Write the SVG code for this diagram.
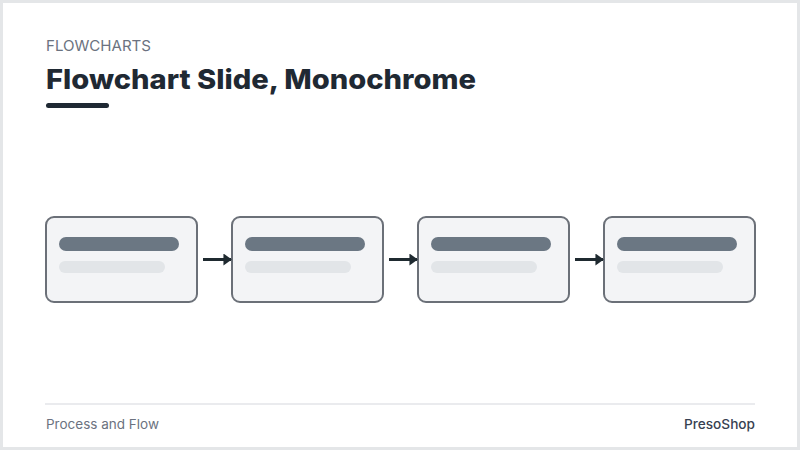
<svg xmlns="http://www.w3.org/2000/svg" width="800" height="450" viewBox="0 0 800 450">
<defs>
<style>
.node rect.box{fill:#f3f4f6;stroke:#6b7078;stroke-width:2}
.bar1{fill:#6b7783}
.bar2{fill:#e2e5e8}
.conn line{stroke:#1f2a30;stroke-width:3}
.t{font-family:"Inter","Liberation Sans",sans-serif}
</style>
<marker id="ah" viewBox="0 0 10 10" refX="9" refY="5" markerWidth="2.8" markerHeight="4" orient="auto" markerUnits="strokeWidth" preserveAspectRatio="none">
<path d="M0,0 L10,5 L0,10 Z" fill="#1f2a30"/>
</marker>
</defs>
<rect x="1.5" y="1.5" width="797" height="447" fill="#ffffff" stroke="#e4e6e8" stroke-width="3"/>
<text class="t" x="46" y="51" font-size="14.5" fill="#6b7280" textLength="105" lengthAdjust="spacingAndGlyphs">FLOWCHARTS</text>
<text class="t" x="46" y="89" font-size="27" font-weight="800" fill="#1f2933" textLength="430" lengthAdjust="spacingAndGlyphs">Flowchart Slide, Monochrome</text>
<rect x="46" y="103" width="63" height="5" rx="2.5" fill="#1f2933"/>
<g id="node1" class="node">
<rect class="box" x="46" y="217" width="151" height="85" rx="8"/>
<rect class="bar1" x="59" y="237" width="120" height="14" rx="7"/>
<rect class="bar2" x="59" y="261" width="106" height="12" rx="6"/>
</g>
<g id="node2" class="node">
<rect class="box" x="232" y="217" width="151" height="85" rx="8"/>
<rect class="bar1" x="245" y="237" width="120" height="14" rx="7"/>
<rect class="bar2" x="245" y="261" width="106" height="12" rx="6"/>
</g>
<g id="node3" class="node">
<rect class="box" x="418" y="217" width="151" height="85" rx="8"/>
<rect class="bar1" x="431" y="237" width="120" height="14" rx="7"/>
<rect class="bar2" x="431" y="261" width="106" height="12" rx="6"/>
</g>
<g id="node4" class="node">
<rect class="box" x="604" y="217" width="151" height="85" rx="8"/>
<rect class="bar1" x="617" y="237" width="120" height="14" rx="7"/>
<rect class="bar2" x="617" y="261" width="106" height="12" rx="6"/>
</g>
<g id="connectors" class="conn">
<line x1="203" y1="259.5" x2="231" y2="259.5" marker-end="url(#ah)"/>
<line x1="389" y1="259.5" x2="417" y2="259.5" marker-end="url(#ah)"/>
<line x1="575" y1="259.5" x2="603" y2="259.5" marker-end="url(#ah)"/>
</g>
<line x1="45" y1="404" x2="755" y2="404" stroke="#e3e5e8" stroke-width="1.5"/>
<text class="t" x="46" y="429" font-size="13" fill="#6b7280" textLength="113" lengthAdjust="spacingAndGlyphs">Process and Flow</text>
<text class="t" x="755" y="429" font-size="13" font-weight="500" fill="#374151" text-anchor="end" textLength="71" lengthAdjust="spacingAndGlyphs">PresoShop</text>
</svg>
